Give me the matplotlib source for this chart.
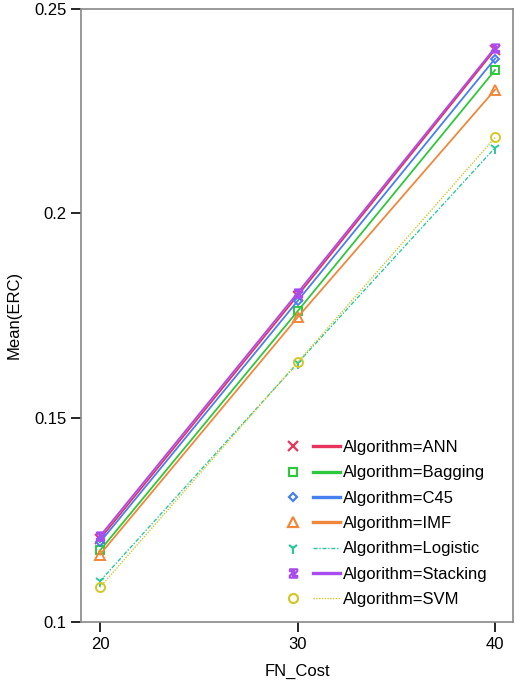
import matplotlib.pyplot as plt
from matplotlib.lines import Line2D
from matplotlib.legend_handler import HandlerTuple

plt.rcParams['font.family'] = ['Liberation Sans', 'DejaVu Sans']

fn_cost = [20, 30, 40]
algorithms = ["ANN", "Bagging", "C45", "IMF", "Logistic", "Stacking", "SVM"]
ann = [0.1203, 0.1798, 0.2400]
bagging = [0.1175, 0.1760, 0.2350]
c45 = [0.1195, 0.1785, 0.2378]
imf = [0.1165, 0.1745, 0.2302]
logistic = [0.1100, 0.1633, 0.2160]
stacking = [0.1210, 0.1805, 0.2405]
svm = [0.1085, 0.1635, 0.2185]

series = [ann, bagging, c45, imf, logistic, stacking, svm]
colors = ["#e8345c", "#2ec83c", "#4680f0", "#f0883c", "#2ac8a0", "#a84cf0", "#d2c82a"]
markers = ["x", "s", "D", "^", "1", r"$\mathbf{z}$", "o"]
msizes = [7, 5.5, 4.5, 6.5, 8, 6, 6.5]
styles = ["-", "-", "-", "-", (0, (3, 1.2, 1, 1.2)), "-", (0, (1, 1))]
widths = [1.3, 1.3, 1.3, 1.3, 1.0, 1.3, 1.0]

fig = plt.figure(figsize=(5.16, 6.83), dpi=100)
ax = fig.add_axes([0.157, 0.0893, 0.837, 0.898])

handles = []
for name, vals, c, m, ms, ls, lw in zip(algorithms, series, colors, markers, msizes, styles, widths):
    ax.plot(fn_cost, vals, color=c, linestyle=ls, linewidth=lw)
    ax.plot(fn_cost, vals, linestyle="none", marker=m, markersize=ms,
            markerfacecolor="none", markeredgecolor=c, markeredgewidth=1.4)
    mk = Line2D([], [], linestyle="none", marker=m, markersize=ms,
                markerfacecolor="none", markeredgecolor=c, markeredgewidth=1.6)
    ln = Line2D([], [], color=c, linestyle=ls, linewidth=2.4 if lw > 1.2 else lw)
    handles.append((mk, ln))

ax.legend(handles, ["Algorithm=" + a for a in algorithms],
          handler_map={tuple: HandlerTuple(ndivide=None, pad=0.4)},
          loc="lower right", bbox_to_anchor=(0.975, 0.0), frameon=False,
          fontsize=12, handlelength=3.6, handletextpad=0.15, labelspacing=0.62)

ax.set_xlim(19.04, 40.9)
ax.set_ylim(0.1, 0.25)
ax.set_xticks([20, 30, 40])
ax.set_yticks([0.1, 0.15, 0.2, 0.25])
ax.set_yticklabels(["0.1", "0.15", "0.2", "0.25"])
ax.tick_params(direction="out", length=7, width=1.2, labelsize=12, colors="black")
for s in ax.spines.values():
    s.set_color("#888888")
    s.set_linewidth(1.2)
ax.set_xlabel("FN_Cost", fontsize=12, labelpad=9)
ax.set_ylabel("Mean(ERC)", fontsize=12, labelpad=9)

fig.savefig("out.png", dpi=100)
